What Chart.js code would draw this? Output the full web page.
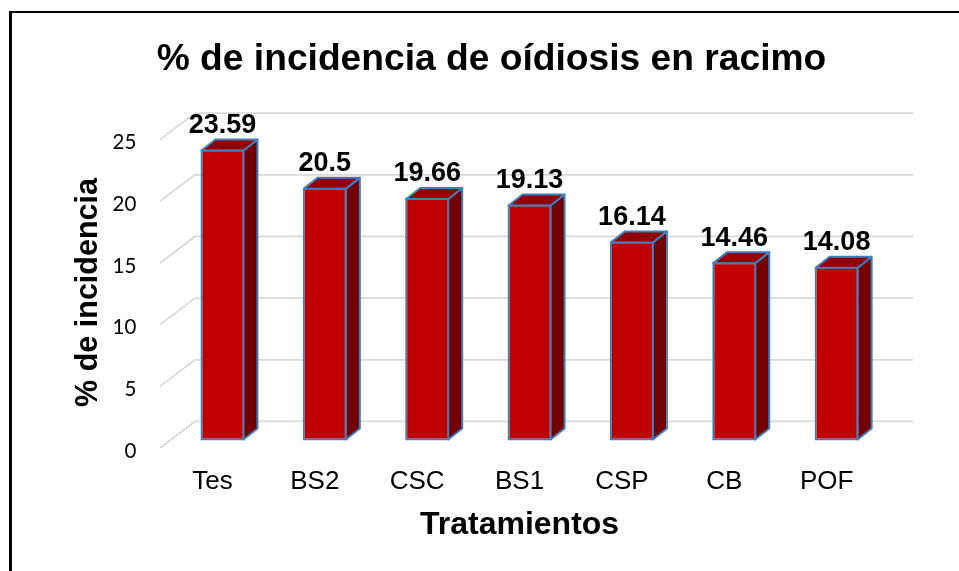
<!DOCTYPE html>
<html>
<head>
<meta charset="utf-8">
<style>
  html, body { margin: 0; padding: 0; background: #fff; }
  #wrap { position: absolute; left: 0; top: 0; width: 959px; height: 571px; }
  canvas { display: block; }
</style>
<script src="https://cdn.jsdelivr.net/npm/chart.js@4"></script>
</head>
<body>
<div id="wrap"><canvas id="chart" width="959" height="571"></canvas></div>
<script>
// Chart data
const categories = ['Tes', 'BS2', 'CSC', 'BS1', 'CSP', 'CB', 'POF'];
const incidence = [23.59, 20.5, 19.66, 19.13, 16.14, 14.46, 14.08];
const yTicks = [0, 5, 10, 15, 20, 25];

const TITLE = '% de incidencia de oídiosis en racimo';
const X_TITLE = 'Tratamientos';
const Y_TITLE = '% de incidencia';

const COLORS = {
  front: '#c00000',
  top: '#900000',
  side: '#730000',
  edge: '#3f7fbd',
  grid: '#d9d9d9',
  frame: '#000000',
};

// 3D look: offsets in px relative to the bar plane
const BAR_DEPTH_X = 14;
const BAR_DEPTH_Y = 11;
const FLOOR_FRONT = { x: 160, dy: 7.5 };
const FLOOR_BACK = { x: 195, dy: -19 };
const GRID_END = 913;
const X_LABEL_SHIFT = -10;

function poly(ctx, pts, fill) {
  ctx.beginPath();
  pts.forEach((p, i) => (i ? ctx.lineTo(p[0], p[1]) : ctx.moveTo(p[0], p[1])));
  ctx.closePath();
  ctx.fillStyle = fill;
  ctx.fill();
  ctx.stroke();
}

// Grey walls behind the bars, positions come from the y scale
const wallPlugin = {
  id: 'wall',
  beforeDatasetsDraw(chart) {
    const ctx = chart.ctx;
    const y = chart.scales.y;
    ctx.save();
    ctx.strokeStyle = COLORS.grid;
    ctx.lineWidth = 1.8;
    yTicks.forEach(t => {
      const py = y.getPixelForValue(t);
      ctx.beginPath();
      ctx.moveTo(FLOOR_FRONT.x, py + FLOOR_FRONT.dy);
      ctx.lineTo(FLOOR_BACK.x, py + FLOOR_BACK.dy);
      ctx.lineTo(GRID_END, py + FLOOR_BACK.dy);
      ctx.stroke();
    });
    ctx.restore();
  },
};

// Side and top faces of each bar, taken from the bar elements
const bar3dPlugin = {
  id: 'bar3d',
  beforeDatasetDraw(chart) {
    const ctx = chart.ctx;
    ctx.save();
    ctx.strokeStyle = COLORS.edge;
    ctx.lineWidth = 2;
    ctx.lineJoin = 'round';
    chart.getDatasetMeta(0).data.forEach(bar => {
      const left = bar.x - bar.width / 2 + 1;
      const right = bar.x + bar.width / 2 - 1;
      const top = bar.y + 1;
      const base = bar.base - 1;
      poly(ctx, [[right, top], [right + BAR_DEPTH_X, top - BAR_DEPTH_Y],
        [right + BAR_DEPTH_X, base - BAR_DEPTH_Y], [right, base]], COLORS.side);
      poly(ctx, [[left, top], [left + BAR_DEPTH_X, top - BAR_DEPTH_Y],
        [right + BAR_DEPTH_X, top - BAR_DEPTH_Y], [right, top]], COLORS.top);
    });
    ctx.restore();
  },
};

// Value labels above the bars, and the x title (it sits left of the plot centre)
const textPlugin = {
  id: 'texts',
  afterDraw(chart) {
    const ctx = chart.ctx;
    const area = chart.chartArea;
    ctx.save();
    ctx.fillStyle = '#000';
    ctx.textAlign = 'center';
    ctx.textBaseline = 'alphabetic';
    ctx.font = 'bold 27px "Liberation Sans"';
    chart.getDatasetMeta(0).data.forEach((bar, i) => {
      ctx.fillText(String(incidence[i]), bar.x, bar.y - 16.5);
    });
    ctx.font = 'bold 32px "Liberation Sans"';
    ctx.fillText(X_TITLE, (area.left + area.right) / 2 + X_LABEL_SHIFT, 534);
    ctx.restore();
  },
};

// Black frame on the left and top of the picture
const framePlugin = {
  id: 'frame',
  afterDraw(chart) {
    const ctx = chart.ctx;
    ctx.save();
    ctx.fillStyle = COLORS.frame;
    ctx.fillRect(9, 11, 3, 560);
    ctx.fillRect(9, 11, 950, 2);
    ctx.restore();
  },
};

new Chart(document.getElementById('chart').getContext('2d'), {
  type: 'bar',
  data: {
    labels: categories,
    datasets: [{
      data: incidence,
      backgroundColor: COLORS.front,
      borderColor: COLORS.edge,
      borderWidth: 2,
      borderSkipped: false,
      barPercentage: 0.43,
      categoryPercentage: 1,
    }],
  },
  plugins: [wallPlugin, bar3dPlugin, textPlugin, framePlugin],
  options: {
    responsive: false,
    animation: false,
    layout: { padding: { left: 24, right: 0, top: 0, bottom: 0 } },
    plugins: {
      legend: { display: false },
      tooltip: { enabled: false },
      title: {
        display: true,
        text: TITLE,
        color: '#000',
        font: { family: '"Liberation Sans"', size: 37.2, weight: 'bold' },
        padding: { top: 37.5, bottom: 50 },
      },
    },
    scales: {
      x: {
        afterFit(axis) { axis.height = 118.2; },
        grid: { display: false },
        border: { display: false },
        ticks: {
          color: '#000',
          font: { family: '"Liberation Sans"', size: 26 },
          maxRotation: 0,
          labelOffset: X_LABEL_SHIFT,
          padding: 5,
        },
      },
      y: {
        // a little room below zero keeps the axis title centred like the original
        min: -1,
        max: 25,
        afterFit(axis) { axis.width = 147.3; },
        afterBuildTicks(axis) { axis.ticks = yTicks.map(v => ({ value: v })); },
        grid: { display: false },
        border: { display: false },
        ticks: {
          color: '#000',
          font: { family: 'Lato', size: 20.5 },
          labelOffset: 10.5,
          padding: 27,
        },
        title: {
          display: true,
          text: Y_TITLE,
          color: '#000',
          font: { family: '"Liberation Sans"', size: 30.5, weight: 'bold' },
          padding: { top: 46.5, bottom: 0 },
        },
      },
      // empty axis, only holds the right margin so the title stays centred on the page
      margin: {
        position: 'right',
        type: 'linear',
        afterFit(axis) { axis.width = 71.2; },
        grid: { display: false },
        border: { display: false },
        ticks: { display: false },
      },
    },
  },
});
</script>
</body>
</html>
